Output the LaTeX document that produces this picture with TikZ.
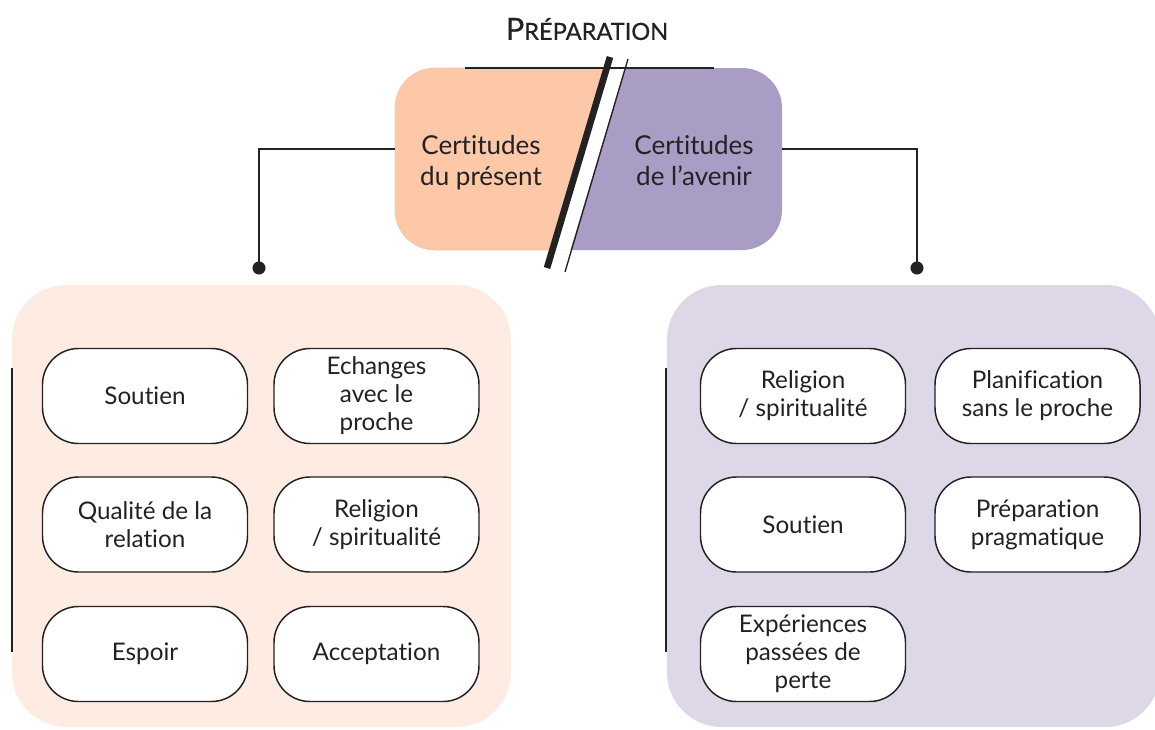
\documentclass[tikz,border=0pt]{standalone}
\usepackage{fontspec}
\setmainfont{Lato}[Ligatures=NoCommon]
\newfontfamily\titlefont[FakeBold=0.6,Ligatures=NoCommon]{Lato}
\usetikzlibrary{positioning}
\definecolor{peach}{HTML}{FDC8A8}
\definecolor{lilac}{HTML}{A99CC5}
\definecolor{peachlight}{HTML}{FEEBE2}
\definecolor{lilaclight}{HTML}{DDD7E8}
\definecolor{ink}{HTML}{222222}
\tikzset{
    itembox/.style={
        draw=ink, line width=1.1pt, fill=white,
        rounded corners=27pt,
        minimum width=153.75pt, minimum height=71.25pt,
        align=center, text=ink, inner sep=2pt,
        font=\fontsize{18.2}{21}\selectfont,
    },
    groupbox/.style={
        draw=none, rounded corners=41pt,
        minimum height=331.5pt, inner sep=0pt,
    },
    toptext/.style={
        align=center, text=ink, inner sep=0pt, anchor=north,
        font=\fontsize{19.5}{23.2}\selectfont,
    },
    link/.style={draw=ink, line width=1pt},
}

\begin{document}
\begin{tikzpicture}[x=0.75pt, y=-0.75pt]
    \clip (0,0) rectangle (1155,729);
    \fill[white] (0,0) rectangle (1155,729);

    % two groups
    \node[groupbox, fill=peachlight, minimum width=374.25pt] (present) at (261.5,506) {};
    \node[groupbox, fill=lilaclight, minimum width=369.75pt] (avenir) at (913.5,506) {};
    \draw[link] (12,368) -- (12,652);
    \draw[link] (666,368) -- (666,652);

    \node[itembox] (soutienP) at (145,396) {Soutien};
    \node[itembox] (echanges) at (376.5,396) {Echanges\\avec le\\proche};
    \node[itembox] (qualite) at (145,524.5) {Qualité de la\\relation};
    \node[itembox] (religionP) at (376.5,524.5) {Religion\\/ spiritualité};
    \node[itembox] (espoir) at (145,654) {Espoir};
    \node[itembox] (acceptation) at (376.5,654) {Acceptation};

    \node[itembox] (religionA) at (803,396) {Religion\\/ spiritualité};
    \node[itembox] (planif) at (1037.5,396) {Planification\\sans le proche};
    \node[itembox] (soutienA) at (803,524.5) {Soutien};
    \node[itembox] (pragma) at (1037.5,524.5) {Préparation\\pragmatique};
    \node[itembox] (experiences) at (803,654) {Expériences\\passées de\\perte};

    % split box
    \node[fill=lilac, rounded corners=30pt, minimum width=290.25pt,
        minimum height=136.5pt, inner sep=0pt] (prep) at (588.5,159) {};
    \begin{scope}
        \clip[rounded corners=30pt] (prep.south west) rectangle (prep.north east);
        \fill[peach] (380,40) -- (615,40) -- (543.4,280) -- (380,280) -- cycle;
        \fill[white] (615,40) -- (633,40) -- (561.4,280) -- (543.4,280) -- cycle;
    \end{scope}
    \draw[link, line width=0.8pt] (465,68) -- (714,68);
    \draw[ink, line width=5pt] (610,57) -- (547,268);
    \draw[ink, line width=1pt] (628,59) -- (565,272);

    \node[toptext] (presentlbl) at (481,135) {Certitudes\\du présent};
    \node[toptext] (avenirlbl) at (694,135) {Certitudes\\de l’avenir};

    \node[text=ink, inner sep=0pt] (titre) at (587,29)
        {\titlefont\fontsize{23}{23}\selectfont P\fontsize{17.7}{20}\selectfont RÉPARATION};

    % connectors
    \coordinate (dotL) at (259,268);
    \coordinate (dotR) at (917,268);
    \draw[link] ([yshift=7.5pt]prep.west) -| (dotL);
    \draw[link] ([yshift=7.5pt]prep.east) -| (dotR);
    \fill[ink] (dotL) circle (4.9pt);
    \fill[ink] (dotR) circle (4.9pt);
\end{tikzpicture}
\end{document}
